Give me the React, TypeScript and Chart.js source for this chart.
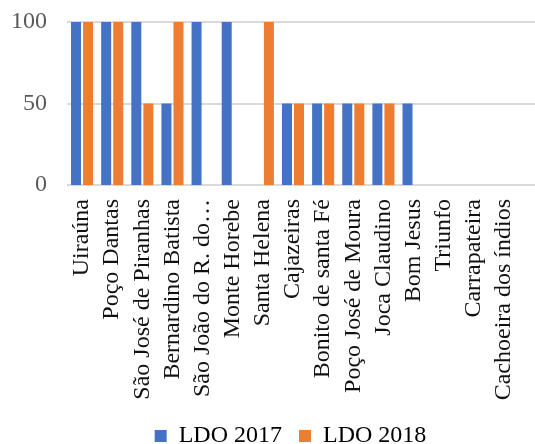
import React, { useEffect, useRef } from "react";
import { Chart, registerables } from "chart.js";

Chart.register(...registerables);

const municipios = [
  "Uiraúna",
  "Poço Dantas",
  "São José de Piranhas",
  "Bernardino Batista",
  "São João do R. do…",
  "Monte Horebe",
  "Santa Helena",
  "Cajazeiras",
  "Bonito de santa Fé",
  "Poço José de Moura",
  "Joca Claudino",
  "Bom Jesus",
  "Triunfo",
  "Carrapateira",
  "Cachoeira dos índios",
];

const ldo2017 = [100, 100, 100, 50, 100, 100, 0, 50, 50, 50, 50, 50, 0, 0, 0];
const ldo2018 = [100, 100, 50, 100, 0, 0, 100, 50, 50, 50, 50, 0, 0, 0, 0];

const yTicks = [0, 50, 100];

const SERIF = '"Liberation Serif", "Times New Roman", serif';

// Horizontal value lines that run past the plot area to the right edge.
const wideGrid = {
  id: "wideGrid",
  beforeDatasetsDraw(chart: any) {
    const { ctx, chartArea, scales } = chart;
    ctx.save();
    ctx.strokeStyle = "#d9d9d9";
    ctx.lineWidth = 2;
    for (const v of yTicks) {
      const y = Math.round(scales.y.getPixelForValue(v));
      ctx.beginPath();
      ctx.moveTo(chartArea.left, y);
      ctx.lineTo(chart.width, y);
      ctx.stroke();
    }
    ctx.restore();
  },
};

// Moves the legend row a little to the right of the canvas centre.
const legendOffset = {
  id: "legendOffset",
  afterLayout(chart: any) {
    const lg = chart.legend;
    if (!lg) return;
    lg.left += 31;
    lg.right += 31;
  },
};

export default function App() {
  const ref = useRef<HTMLCanvasElement>(null);

  useEffect(() => {
    if (!ref.current) return;
    const chart = new Chart(ref.current, {
      type: "bar",
      data: {
        labels: municipios,
        datasets: [
          {
            label: "LDO 2017",
            data: ldo2017,
            backgroundColor: "#4472C4",
            borderWidth: 0,
          },
          {
            label: "LDO 2018",
            data: ldo2018,
            backgroundColor: "#ED7D31",
            borderWidth: 0,
          },
        ],
      },
      options: {
        animation: false,
        responsive: false,
        devicePixelRatio: 1,
        datasets: {
          bar: { categoryPercentage: 0.8, barPercentage: 0.83 },
        },
        layout: { padding: { top: 22, right: 16, left: 0, bottom: 0 } },
        scales: {
          x: {
            grid: { display: false, drawTicks: false },
            border: { display: false },
            ticks: {
              autoSkip: false,
              minRotation: 90,
              maxRotation: 90,
              padding: 14,
              color: "#111111",
              font: { family: SERIF, size: 24 },
            },
            afterFit: (s: any) => {
              s.height = 222;
              s.paddingTop = 0;
              s.paddingBottom = 0;
              s.paddingLeft = 0;
              s.paddingRight = 0;
            },
          },
          y: {
            min: 0,
            max: 100,
            grid: { display: false, drawTicks: false },
            border: { display: false },
            ticks: {
              stepSize: 50,
              padding: 20,
              color: "#595959",
              font: { family: SERIF, size: 24 },
            },
            afterFit: (s: any) => {
              s.width = 67;
              s.paddingTop = 0;
              s.paddingBottom = 0;
            },
          },
        },
        plugins: {
          tooltip: { enabled: false },
          legend: {
            position: "bottom",
            labels: {
              boxWidth: 12,
              boxHeight: 12,
              padding: 17,
              color: "#000000",
              font: { family: SERIF, size: 24 },
            },
          },
        },
      },
      plugins: [wideGrid, legendOffset],
    });
    return () => chart.destroy();
  }, []);

  return (
    <div
      style={{
        position: "absolute",
        left: 0,
        top: 0,
        width: 535,
        height: 444,
        overflow: "hidden",
        background: "#ffffff",
      }}
    >
      <canvas ref={ref} width={535} height={458} style={{ display: "block" }} />
    </div>
  );
}
